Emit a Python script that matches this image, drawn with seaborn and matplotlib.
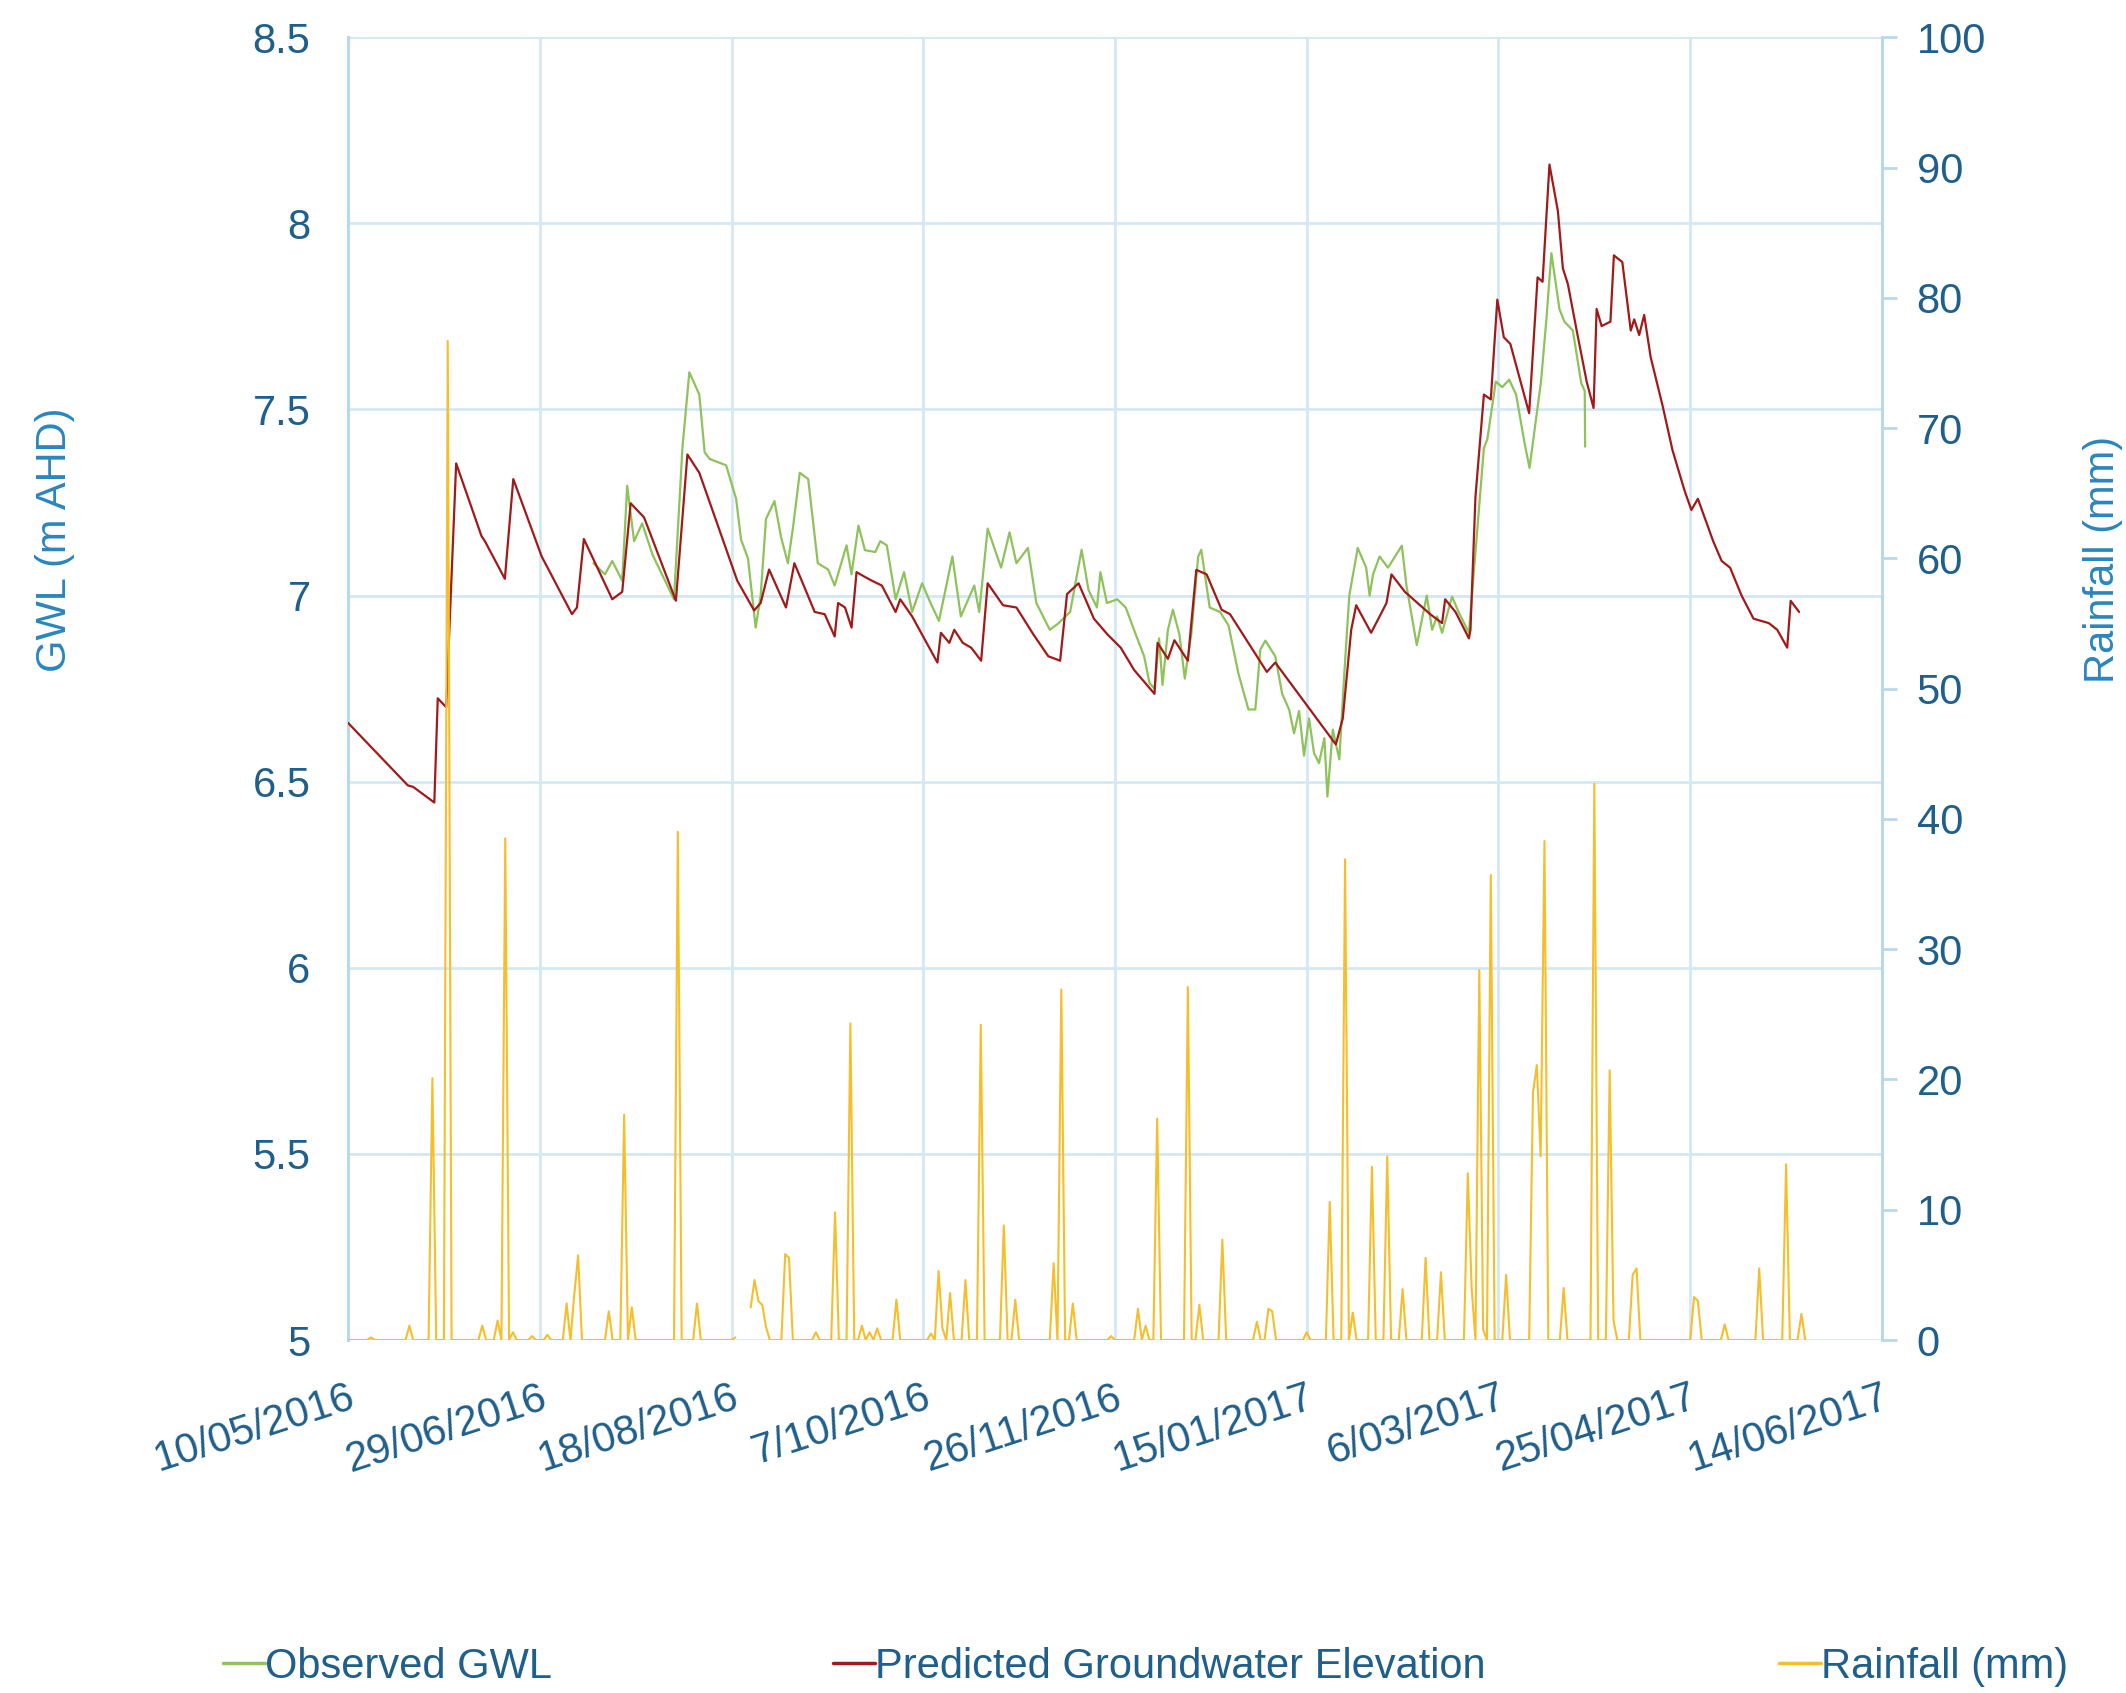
import numpy as np
import pandas as pd
import matplotlib
matplotlib.use("Agg")
import matplotlib.pyplot as plt
from matplotlib.lines import Line2D
import seaborn as sns

# ---- data (day offsets from 10/05/2016) ----
start_date = "2016-05-10"

pred_day = [0, 15.6, 17, 22.5, 23.4, 25.6, 28.2, 34.8, 35.7, 40.9, 43.1, 50.5, 58.4, 59.7, 61.5,
            68.9, 71.5, 73.7, 77.2, 85.5, 88.5, 91.6, 101.5, 105.9, 107.6, 109.8, 114.2, 116.4,
            121.7, 124.3, 126.9, 127.8, 129.6, 131.3, 132.6, 134.8, 136.6, 139.2, 142.8, 144,
            147.1, 153.7, 154.6, 156.8, 158.1, 160.3, 162.5, 165.1, 166.8, 170.8, 174.3, 178.7,
            182.6, 185.7, 187.5, 190.5, 194.5, 198, 201.5, 205, 210.3, 211.1, 213.8, 215.5, 219,
            221.2, 223.9, 227.8, 230, 239.6, 241.8, 257.6, 259.4, 261.6, 262.9, 266.8, 270.8,
            272.1, 275.6, 282.2, 285.3, 286.1, 288.8, 292.3, 292.7, 294, 296.2, 298, 299.7,
            301.4, 303.1, 308, 310.2, 311.5, 313.3, 315.5, 316.8, 318.1, 320.4, 323, 324.8,
            325.6, 326.9, 329.2, 330.1, 332.3, 334.5, 335.4, 336.7, 338, 339.7, 342.8, 345.4,
            348.5, 350.3, 352, 356, 358.2, 360.4, 363.4, 366.5, 370.5, 372.7, 375.3, 376.2, 378.4]
pred_gwl = [6.658, 6.49, 6.486, 6.444, 6.724, 6.70, 7.355, 7.16, 7.146, 7.045, 7.313, 7.105, 6.95,
            6.968, 7.152, 6.99, 7.01, 7.248, 7.21, 6.986, 7.379, 7.33, 7.04, 6.96, 6.98, 7.07,
            6.968, 7.087, 6.956, 6.95, 6.89, 6.98, 6.968, 6.914, 7.063, 7.05, 7.04, 7.027, 6.956,
            6.99, 6.944, 6.82, 6.90, 6.873, 6.908, 6.873, 6.86, 6.825, 7.033, 6.974, 6.968, 6.896,
            6.837, 6.825, 7.004, 7.033, 6.938, 6.896, 6.86, 6.80, 6.736, 6.873, 6.83, 6.88, 6.825,
            7.069, 7.057, 6.962, 6.95, 6.795, 6.82, 6.60, 6.67, 6.908, 6.974, 6.90, 6.98, 7.057,
            7.01, 6.95, 6.926, 6.99, 6.956, 6.885, 6.908, 7.265, 7.54, 7.527, 7.795, 7.694, 7.676,
            7.49, 7.855, 7.843, 8.158, 8.033, 7.879, 7.837, 7.712, 7.575, 7.504, 7.77, 7.724,
            7.736, 7.914, 7.896, 7.712, 7.742, 7.70, 7.754, 7.64, 7.51, 7.39, 7.283, 7.23, 7.26,
            7.146, 7.093, 7.075, 7.0, 6.938, 6.926, 6.908, 6.86, 6.986, 6.956]

obs_day = [64, 67, 68.9, 71.5, 72.8, 74.6, 76.7, 79.4, 85, 87.2, 89, 91.6, 93, 94.3, 98.6, 101.2,
           102.5, 104.3, 106.3, 107.6, 109, 111.2, 112.9, 114.7, 116, 117.8, 120, 122.5, 125.2,
           126.9, 130, 131.3, 133.1, 134.8, 137.5, 138.8, 140.5, 142.8, 145, 147.1, 149.7, 151.9,
           154.1, 157.6, 159.8, 163.3, 164.6, 166.8, 170.3, 172.5, 174.3, 177.3, 179.5, 183, 185.2,
           188.3, 191.3, 193.1, 195.3, 196.2, 197.9, 200.6, 202.8, 205.4, 207.6, 209, 210.3, 211.5,
           212.4, 213.8, 215.1, 216.8, 218.2, 219.9, 221.7, 222.5, 224.7, 227.4, 229.6, 232.2,
           234.8, 236.6, 237.9, 239.2, 241.8, 243.6, 245.4, 246.7, 248, 249.3, 250.6, 251.9,
           253.2, 254.6, 255.4, 256.8, 258.5, 259.8, 261.1, 263.3, 265.5, 266.4, 267.3, 269,
           271.2, 274.8, 276, 277.8, 278.7, 281.3, 282.7, 284, 285.3, 287.9, 289.6, 292.3, 296.2,
           297.1, 299.3, 301, 302.8, 304.6, 306.8, 308.1, 309.4, 311.1, 312.5, 313.8, 315.9,
           317.2, 319.4, 321.6, 322.5, 322.6]
obs_gwl = [7.087, 7.057, 7.093, 7.04, 7.295, 7.146, 7.194, 7.11, 6.99, 7.396, 7.60, 7.54, 7.385,
           7.367, 7.35, 7.26, 7.15, 7.10, 6.914, 7.0, 7.206, 7.254, 7.158, 7.087, 7.18, 7.33,
           7.313, 7.087, 7.07, 7.027, 7.135, 7.057, 7.188, 7.122, 7.117, 7.146, 7.135, 6.99,
           7.063, 6.956, 7.033, 6.98, 6.932, 7.105, 6.944, 7.027, 6.956, 7.18, 7.075, 7.17, 7.087,
           7.128, 6.98, 6.908, 6.925, 6.956, 7.123, 7.015, 6.968, 7.063, 6.98, 6.99, 6.968, 6.896,
           6.837, 6.765, 6.75, 6.885, 6.76, 6.908, 6.962, 6.896, 6.777, 6.896, 7.105, 7.123,
           6.968, 6.956, 6.92, 6.79, 6.694, 6.694, 6.855, 6.879, 6.837, 6.736, 6.694, 6.63, 6.69,
           6.57, 6.67, 6.577, 6.55, 6.617, 6.46, 6.64, 6.56, 6.79, 7.0, 7.128, 7.075, 7.0, 7.057,
           7.105, 7.075, 7.134, 7.027, 6.92, 6.867, 7.0, 6.908, 6.944, 6.90, 6.997, 6.956, 6.90,
           7.396, 7.42, 7.575, 7.56, 7.58, 7.54, 7.41, 7.343, 7.444, 7.575, 7.742, 7.92, 7.77,
           7.736, 7.712, 7.57, 7.55, 7.40]

# days with recorded rainfall (all other days up to day 380 are dry)
rain_day = [6, 16, 22, 26, 35, 39, 41, 43, 48, 52, 57, 59, 60, 68, 72, 74, 86, 91, 101,
            105, 106, 107, 108, 109, 114, 115, 122, 127, 131, 134, 136, 138, 143, 152, 154, 155,
            157, 161, 165, 171, 174, 184, 186, 189, 199, 206, 208, 211, 219, 222, 228, 237, 240,
            241, 250, 256, 260, 262, 267, 271, 275, 281, 285, 292, 293, 295, 296, 298, 302, 309,
            310, 311, 312, 317, 325, 329, 330, 335, 336, 351, 352, 359, 368, 375, 379]
rain_mm = [0.2, 1.1, 20.1, 76.7, 1.1, 1.5, 38.5, 0.6, 0.3, 0.4, 2.8, 3.5, 6.5, 2.2, 17.3, 2.5,
           39.0, 2.8, 0.2, 2.5, 4.6, 3.0, 2.7, 1.0, 6.6, 6.3, 0.6, 9.8, 24.3, 1.1, 0.6, 0.9, 3.1,
           0.5, 5.3, 0.9, 3.6, 4.6, 24.2, 8.8, 3.1, 5.9, 26.9, 2.8, 0.3, 2.4, 1.1, 17.0, 27.1,
           2.7, 7.7, 1.4, 2.4, 2.2, 0.6, 10.6, 36.9, 2.1, 13.3, 14.1, 3.9, 6.3, 5.2, 12.8, 4.0,
           28.4, 0.8, 35.7, 5.0, 19.0, 21.1, 14.1, 38.3, 4.0, 42.7, 20.7, 1.5, 5.0, 5.5, 3.3,
           3.0, 1.2, 5.5, 13.5, 2.0]
rain_last_day = 380
rain_missing = (102, 104)  # first and last day without a record

gwl_ticks = [5, 5.5, 6, 6.5, 7, 7.5, 8, 8.5]
rain_ticks = [0, 10, 20, 30, 40, 50, 60, 70, 80, 90, 100]

# ---- build frames ----
t0 = pd.Timestamp(start_date)


def to_dates(days):
    return t0 + pd.to_timedelta(np.asarray(days, dtype=float), unit="D")


pred_df = pd.DataFrame({"date": to_dates(pred_day), "gwl": pred_gwl})
obs_df = pd.DataFrame({"date": to_dates(obs_day), "gwl": obs_gwl})

daily = np.zeros(rain_last_day + 1)
daily[rain_day] = rain_mm
all_days = np.arange(rain_last_day + 1)
rain_df = pd.DataFrame({"date": to_dates(all_days), "mm": daily, "day": all_days})
rain_a = rain_df[rain_df["day"] < rain_missing[0]]
rain_b = rain_df[rain_df["day"] > rain_missing[1]]

# ---- style ----
sns.set_theme(style="white")
plt.rcParams["font.family"] = ["Liberation Sans", "DejaVu Sans"]

tick_col = "#1F5F8B"
title_col = "#2A86BF"
grid_col = "#D3E8F6"
spine_col = "#B9D8EE"
green = "#8EC25A"
red = "#A11A1A"
gold = "#F5BE2A"
fs = 30

fig = plt.figure(figsize=(21.26, 16.93), dpi=100)
ax = fig.add_axes([0.1637, 0.2085, 0.7215, 0.7695])
ax2 = ax.twinx()

sns.lineplot(data=obs_df, x="date", y="gwl", ax=ax, color=green, lw=1.6, zorder=3)
sns.lineplot(data=pred_df, x="date", y="gwl", ax=ax, color=red, lw=1.6, zorder=4)
for part in (rain_a, rain_b):
    sns.lineplot(data=part, x="date", y="mm", ax=ax2, color=gold, lw=1.5)

# ---- axes ----
ax.set_xlim(t0, t0 + pd.Timedelta(days=400))
ax.set_ylim(5, 8.5)
ax2.set_ylim(0, 100)

tick_dates = [t0 + pd.Timedelta(days=50 * k) for k in range(9)]
ax.set_xticks(tick_dates)
ax.set_xticklabels([f"{d.day}/{d.month:02d}/{d.year}" for d in tick_dates],
                   rotation=18, ha="right", va="top", rotation_mode="anchor")
ax.set_yticks(gwl_ticks)
ax.set_yticklabels([f"{v:g}" for v in gwl_ticks])
ax2.set_yticks(rain_ticks)

ax.grid(True, color=grid_col, lw=2.0)
ax.set_axisbelow(True)
ax2.grid(False)

ax.tick_params(axis="x", length=0, pad=27, labelsize=fs, labelcolor=tick_col)
ax.tick_params(axis="y", length=0, pad=27, labelsize=fs, labelcolor=tick_col)
ax2.tick_params(axis="y", length=11, width=2, color=spine_col, pad=14,
                labelsize=fs, labelcolor=tick_col, direction="out")

for a in (ax, ax2):
    for side in ("top", "bottom"):
        a.spines[side].set_visible(False)
    a.spines["left"].set_color(spine_col)
    a.spines["right"].set_color(spine_col)
    a.spines["left"].set_linewidth(2.2)
    a.spines["right"].set_linewidth(2.2)
ax.spines["right"].set_visible(False)
ax2.spines["left"].set_visible(False)

ax.set_xlabel("")
ax.set_ylabel("GWL (m AHD)", fontsize=fs, color=title_col, rotation=90)
ax.yaxis.set_label_coords(-0.178, 0.614)
ax2.set_ylabel("Rainfall (mm)", fontsize=fs, color=title_col, rotation=90)
ax2.yaxis.set_label_coords(1.131, 0.599)

# ---- legend along the bottom ----
entries = [(green, "Observed GWL", 0.105),
           (red, "Predicted Groundwater Elevation", 0.392),
           (gold, "Rainfall (mm)", 0.837)]
for col, lab, xpos in entries:
    h = Line2D([], [], color=col, lw=2.5)
    fig.legend([h], [lab], loc="center left", bbox_to_anchor=(xpos, 0.0155),
               frameon=False, fontsize=fs, handlelength=1.0, handletextpad=0.0,
               borderpad=0, borderaxespad=0, labelcolor=tick_col)

fig.savefig("out.png", dpi=100, facecolor="white")
